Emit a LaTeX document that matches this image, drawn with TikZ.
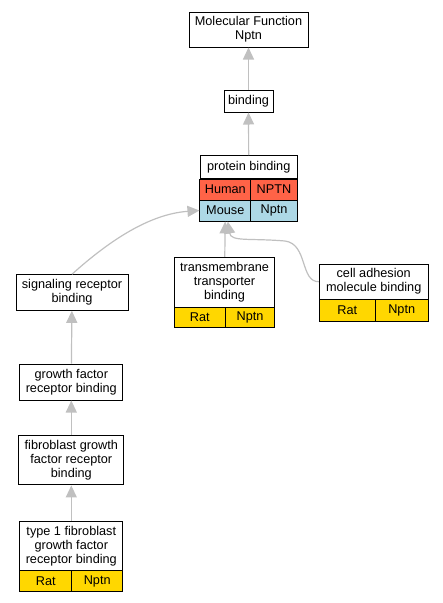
\documentclass[tikz,border=0pt]{standalone}
\usepackage{fontspec}
\setmainfont{Liberation Sans}
\usetikzlibrary{arrows.meta}
\definecolor{edgegray}{HTML}{C0C0C0}
\definecolor{humanred}{HTML}{FF6347}
\definecolor{mouseblue}{HTML}{ADD8E6}
\definecolor{ratgold}{HTML}{FFD700}
\begin{document}
\begin{tikzpicture}[x=1pt,y=-1pt,
  term/.style={draw,line width=1pt,fill=white,align=center,inner sep=0pt,
    font=\fontsize{12.7}{14}\selectfont},
  cell/.style={term,minimum height=21pt},
  isa/.style={-{Triangle[width=11pt,length=12pt]},draw=edgegray,line width=1.2pt}]
  \useasboundingbox (0,0) rectangle (443,603);
  % terms
  \node[term,minimum width=119pt,minimum height=35pt] (mf) at (248.5,29.5) {Molecular Function\\Nptn};
  \node[term,minimum width=49pt,minimum height=22pt] (binding) at (248.5,101) {binding};
  \node[term,minimum width=97.3pt,minimum height=23.3pt] (protbind) at (248.7,167.3) {protein binding};
  \node[cell,fill=humanred,minimum width=50.7pt] (humanL) at (225.3,189.5) {Human};
  \node[cell,fill=humanred,minimum width=46.6pt] (humanR) at (274,189.5) {NPTN};
  \node[cell,fill=mouseblue,minimum width=50.7pt] (mouseL) at (225.3,210.5) {Mouse};
  \node[cell,fill=mouseblue,minimum width=46.6pt] (mouseR) at (274,210.5) {Nptn};
  \node[term,minimum width=112pt,minimum height=35.6pt] (signal) at (72,292.5) {signaling receptor\\binding};
  \node[term,minimum width=100.4pt,minimum height=50pt] (tmbind) at (224.5,282.3) {transmembrane\\transporter\\binding};
  \node[cell,fill=ratgold,minimum width=51pt,minimum height=20.4pt] (tmratL) at (199.8,317.5) {Rat};
  \node[cell,fill=ratgold,minimum width=49.4pt,minimum height=20.4pt] (tmratR) at (250,317.5) {Nptn};
  \node[term,minimum width=108.7pt,minimum height=35.3pt] (celladh) at (373.7,281.7) {cell adhesion\\molecule binding};
  \node[cell,fill=ratgold,minimum width=56pt,minimum height=21.7pt] (caratL) at (347.3,310.2) {Rat};
  \node[cell,fill=ratgold,minimum width=52.7pt,minimum height=21.7pt] (caratR) at (401.7,310.2) {Nptn};
  \node[term,minimum width=102.7pt,minimum height=36pt] (gfrb) at (71.3,382) {growth factor\\receptor binding};
  \node[term,minimum width=105.3pt,minimum height=49.3pt] (fgfrb) at (71.3,460.3) {fibroblast growth\\factor receptor\\binding};
  \node[term,minimum width=102.7pt,minimum height=49pt] (typeone) at (71.3,546.2) {type 1 fibroblast\\growth factor\\receptor binding};
  \node[cell,fill=ratgold,minimum width=51.7pt] (t1ratL) at (45.8,581.2) {Rat};
  \node[cell,fill=ratgold,minimum width=51pt] (t1ratR) at (97.2,581.2) {Nptn};
  % is_a edges
  \draw[isa] (binding) -- (mf);
  \draw[isa] (protbind) -- (binding);
  \draw[isa] (tmbind) -- (mouseL);
  \draw[isa] (signal.north) .. controls (110,240) and (150,214) .. (mouseL.west);
  \draw[isa] (celladh.west) .. controls (300,282) and (308,244) .. (285,241)
    .. controls (250,238) and (231,242) .. ([xshift=2.5pt]mouseL.south);
  \draw[isa] (gfrb) -- (signal);
  \draw[isa] (fgfrb) -- (gfrb);
  \draw[isa] (typeone) -- (fgfrb);
\end{tikzpicture}
\end{document}
